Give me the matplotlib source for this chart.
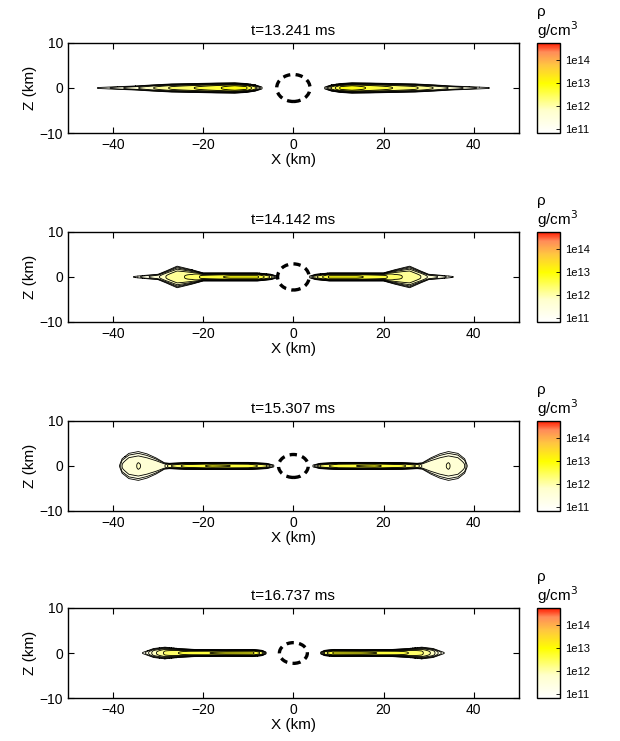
import numpy as np
import matplotlib
matplotlib.use('Agg')
import matplotlib.pyplot as plt
from matplotlib.colors import LinearSegmentedColormap, Normalize
from matplotlib.patches import Ellipse
from matplotlib.cm import ScalarMappable

plt.rcParams['font.family'] = ['Liberation Sans', 'DejaVu Sans']
plt.rcParams['font.size'] = 10

# snapshot times (ms)
times = ['13.241', '14.142', '15.307', '16.737']

# disk profile per snapshot: cylindrical radius (km), half-thickness of the
# 1e11 contour (km), log10 density on the equator
r1 = [6.0, 6.9, 8.5, 10.5, 13.0, 17.0, 22.0, 27.0, 31.0, 35.0, 39.0, 43.5, 44.5]
h1 = [0.1, 0.2, 0.7, 1.0, 1.15, 1.1, 1.0, 0.9, 0.7, 0.45, 0.3, 0.1, 0.1]
d1 = [10.0, 11.0, 12.3, 12.8, 12.9, 12.7, 12.5, 12.3, 12.0, 11.7, 11.4, 11.0, 10.0]

r2 = [3.0, 3.6, 5.0, 8.0, 14.0, 20.0, 22.5, 25.8, 28.3, 30.0, 33.0, 35.5, 36.5]
h2 = [0.1, 0.2, 0.6, 0.9, 0.9, 0.9, 1.6, 2.4, 1.3, 0.6, 0.35, 0.1, 0.1]
d2 = [10.0, 11.0, 12.2, 12.8, 12.8, 12.6, 12.3, 12.2, 12.0, 11.7, 11.4, 11.0, 10.0]

r3 = [3.5, 4.3, 6.0, 10.0, 18.0, 24.0, 27.5, 28.6, 30.5, 32.5, 34.4, 36.5, 38.0, 38.6, 39.5]
h3 = [0.1, 0.2, 0.6, 0.8, 0.8, 0.75, 0.6, 0.7, 1.8, 2.7, 3.2, 2.8, 1.6, 0.1, 0.1]
d3 = [10.0, 11.0, 12.3, 12.7, 12.8, 12.6, 12.2, 11.7, 11.7, 11.72, 11.76, 11.7, 11.5, 11.0, 10.0]

r4 = [5.0, 6.0, 7.0, 9.0, 15.0, 22.0, 25.5, 28.5, 31.0, 33.5, 34.5]
h4 = [0.1, 0.2, 0.6, 0.8, 0.75, 0.8, 1.0, 1.3, 1.0, 0.1, 0.1]
d4 = [10.0, 11.0, 12.4, 12.8, 12.8, 12.7, 12.5, 12.3, 11.9, 11.0, 10.0]

# dashed horizon ellipse semi-axes (km)
hor_rx = [3.7, 3.5, 3.3, 3.1]
hor_rz = [3.0, 2.9, 2.55, 2.3]

profiles = [(r1, h1, d1), (r2, h2, d2), (r3, h3, d3), (r4, h4, d4)]

cbar_ticks = [11, 12, 13, 14]
cbar_labels = ['1e11', '1e12', '1e13', '1e14']
vmin, vmax = 10.83, 14.74

cmap = LinearSegmentedColormap.from_list('rho', [
    (0.0, (1.0, 1.0, 1.0)),
    (0.25, (1.0, 1.0, 0.80)),
    (0.55, (1.0, 1.0, 0.0)),
    (0.75, (1.0, 0.78, 0.25)),
    (0.9, (1.0, 0.55, 0.35)),
    (1.0, (1.0, 0.1, 0.0)),
])
levels = np.arange(11.0, 14.76, 0.25)

x = np.linspace(-50, 50, 801)
z = np.linspace(-10, 10, 401)
X, Z = np.meshgrid(x, z)

fig = plt.figure(figsize=(6.2, 7.41), dpi=100)
bottoms = [0.8205, 0.5655, 0.3104, 0.058]

for i in range(4):
    rr, hh, dd = profiles[i]
    R = np.abs(X)
    H = np.interp(R, rr, hh, left=0.1, right=0.1)
    D = np.interp(R, rr, dd, left=10.0, right=10.0)
    inside = D - (D - 11.0) * (np.abs(Z) / H) ** 3
    logrho = np.where(D > 11.0, inside, D - np.abs(Z))

    ax = fig.add_axes([0.1097, bottoms[i], 0.727, 0.1215])
    ax.contourf(X, Z, logrho, levels=levels, cmap=cmap,
                norm=Normalize(vmin, vmax))
    ax.contour(X, Z, logrho, levels=levels, colors='k', linewidths=0.6)
    ax.add_patch(Ellipse((0, 0), 2 * hor_rx[i], 2 * hor_rz[i], fill=False,
                         ec='k', lw=2.4, ls=(0, (2.2, 1.6))))
    ax.set_xlim(-50, 50)
    ax.set_ylim(-10, 10)
    ax.set_xticks([-40, -20, 0, 20, 40])
    ax.set_yticks([-10, 0, 10])
    ax.set_xticklabels(['\u221240', '\u221220', '0', '20', '40'])
    ax.set_yticklabels(['\u221210', '0', '10'])
    ax.tick_params(direction='in', length=4, width=0.8, labelsize=10,
                   top=True, right=True)
    for s in ax.spines.values():
        s.set_linewidth(1.0)
    ax.set_title('t=' + times[i] + ' ms', fontsize=11, pad=6)
    ax.set_xlabel('X (km)', fontsize=11, labelpad=1)
    ax.set_ylabel('Z (km)', fontsize=11, labelpad=2)

    cax = fig.add_axes([0.866, bottoms[i], 0.037, 0.1215])
    sm = ScalarMappable(norm=Normalize(vmin, vmax), cmap=cmap)
    cb = fig.colorbar(sm, cax=cax)
    cb.set_ticks(cbar_ticks, labels=cbar_labels)
    cb.ax.tick_params(labelsize=8, direction='in', length=3, width=0.6)
    cb.outline.set_linewidth(1.0)
    cax.text(0.0, 1.34, '\u03c1', transform=cax.transAxes, fontsize=11,
             ha='left', va='center')
    cax.text(0.0, 1.14, 'g/cm$^3$', transform=cax.transAxes, fontsize=11,
             ha='left', va='center')

fig.savefig('out.png', dpi=100)
